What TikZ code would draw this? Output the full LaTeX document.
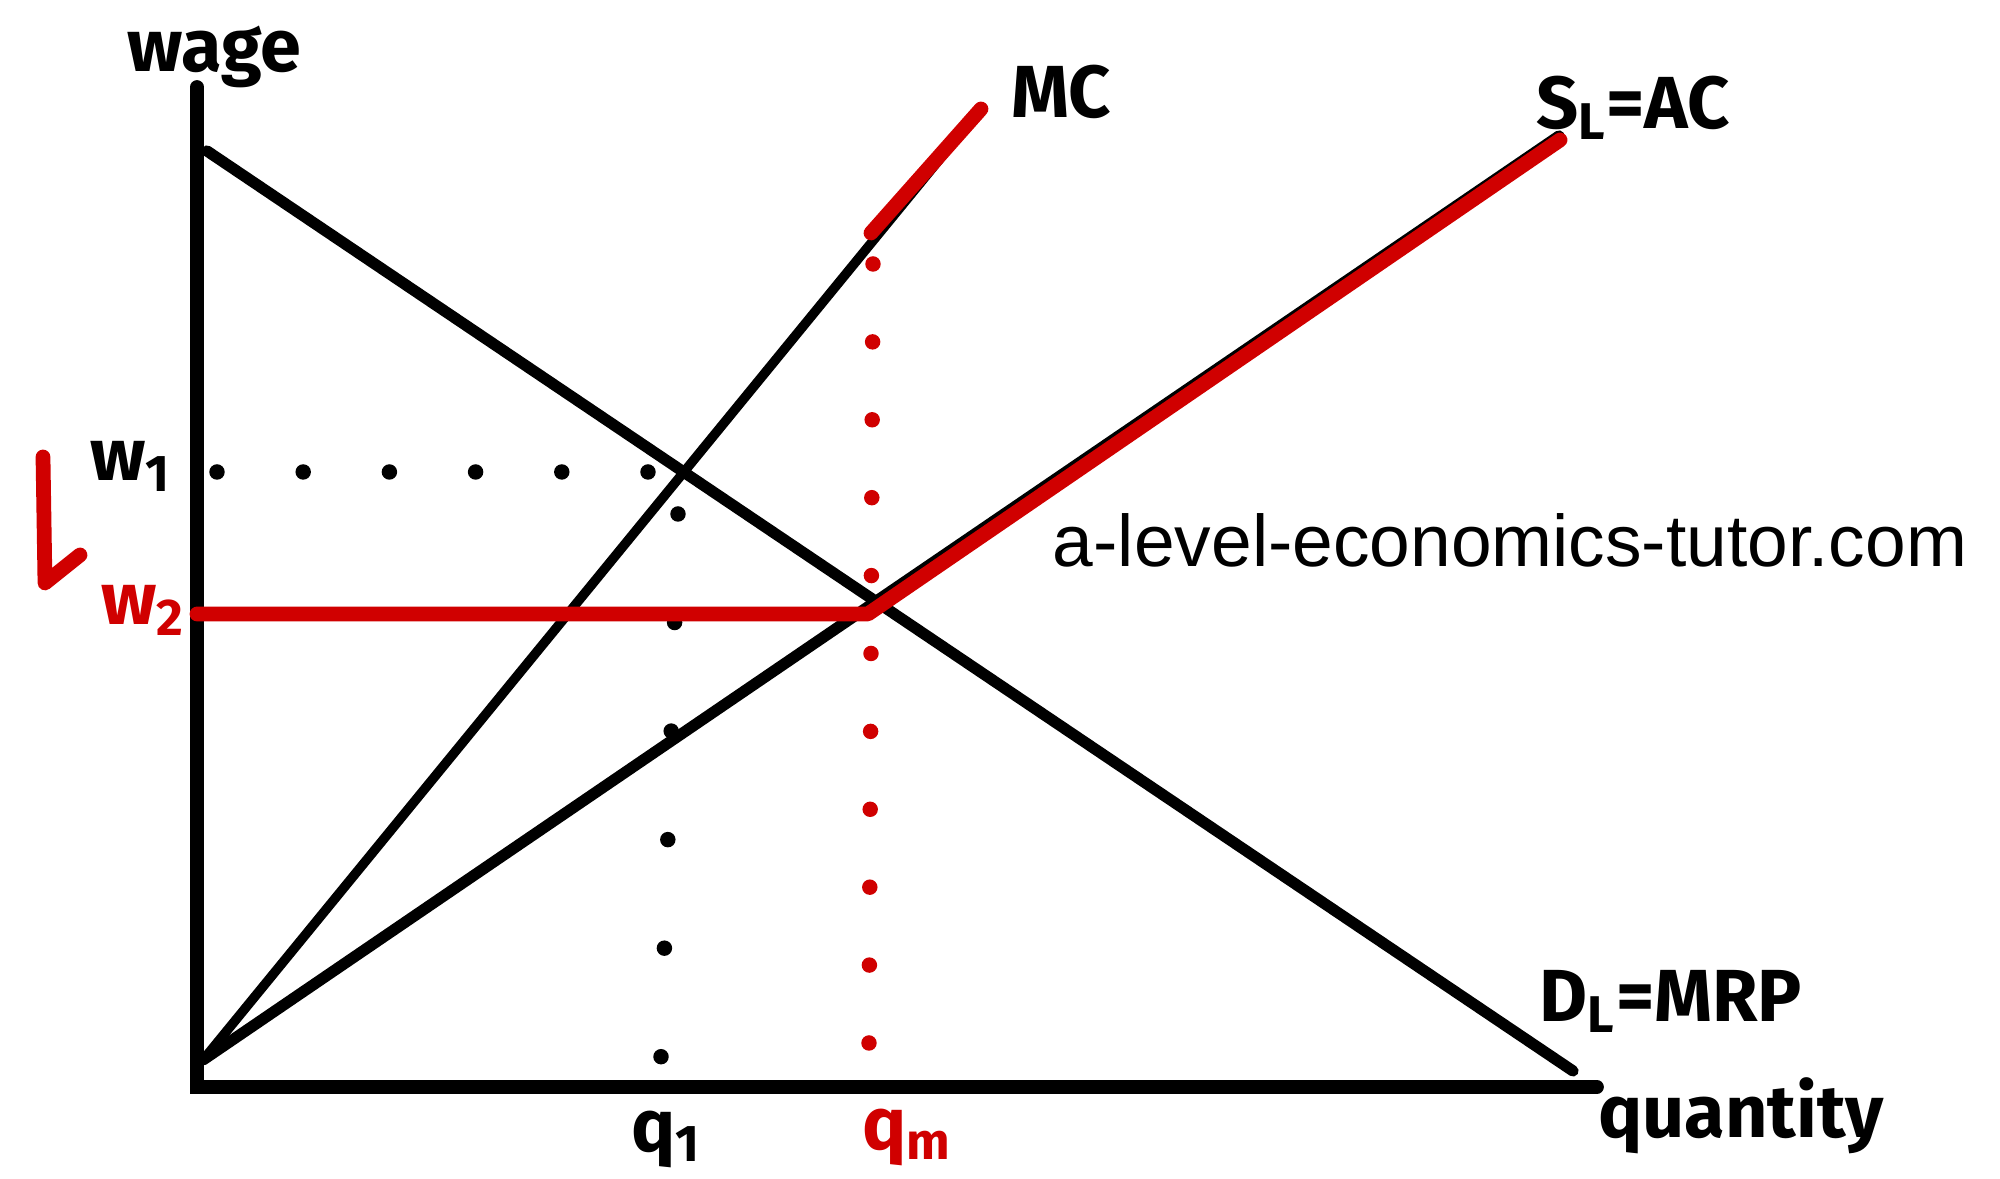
\documentclass[tikz,border=0pt]{standalone}
\usepackage{fontspec}
\setmainfont{Fira Sans}
\newfontfamily\webfont{Liberation Sans}
\definecolor{penred}{RGB}{208,0,0}

\begin{document}
\begin{tikzpicture}
     [
     every node/.style={font=\fontsize{21}{24}\selectfont\bfseries},
     axis/.style={line width=3.9pt, line cap=round},
     curve/.style={line width=3.2pt, line cap=round},
     redline/.style={color=penred, line width=4.2pt, line cap=round, line join=round},
     dots/.style={line width=4.4pt, line cap=round, dash pattern=on 0pt off #1}
     ]
     \useasboundingbox (0,0) rectangle (20,11.79);
     % axes
     \coordinate (O) at (1.97,0.92);
     \coordinate (ytop) at (1.97,10.92);
     \coordinate (xend) at (15.97,0.92);
     \draw[axis] (ytop) -- (O) -- (xend);
     % curves
     \coordinate (C0) at (2.03,1.19);
     \coordinate (Dtop) at (2.07,10.28);
     \coordinate (Dend) at (15.73,1.08);
     \coordinate (MCend) at (9.80,10.69);
     \coordinate (Send) at (15.59,10.43);
     \draw[curve] (Dtop) -- (Dend);
     \draw[curve, line width=2.7pt] (C0) -- (MCend);
     \draw[curve] (C0) -- (Send);
     % equilibrium points
     \coordinate (E1) at (6.83,7.06);
     \coordinate (K) at (8.68,5.65);
     \coordinate (W2) at (1.97,5.65);
     \draw[dots=0.862cm] (2.17,7.07) -- (6.49,7.07);
     \draw[dots=1.086cm] (6.78,6.65) -- (6.61,1.22);
     % minimum wage
     \draw[redline] (W2) -- (K) -- (15.60,10.39);
     \draw[redline] (8.71,9.46) -- (9.81,10.70);
     \draw[dots=0.779cm, color=penred] (8.73,9.15) -- (8.69,1.36);
     \coordinate (arrtop) at (0.43,7.22);
     \coordinate (arrbot) at (0.45,5.96);
     \draw[redline] (arrtop) -- (arrbot) -- (0.80,6.24);
     % labels
     \node (wage) at (2.14,11.22) {wage};
     \node (mc) at (10.61,10.87) {MC};
     \node (sl) at (16.33,10.71) {S\textsubscript{L}=AC};
     \node (dl) at (16.71,1.78) {D\textsubscript{L}=MRP};
     \node (qty) at (17.41,0.63) {quantity};
     \node (w1) at (1.31,7.13) {w\textsubscript{1}};
     \node[color=penred] (w2) at (1.43,5.69) {w\textsubscript{2}};
     \node (q1) at (6.66,0.40) {q\textsubscript{1}};
     \node[color=penred, anchor=west] (qm) at (8.50,0.42) {q\textsubscript{m}};
     \node[font=\webfont\fontsize{20.8}{24}\selectfont] (site) at (15.10,6.39) {a-level-economics-tutor.com};
\end{tikzpicture}
\end{document}
